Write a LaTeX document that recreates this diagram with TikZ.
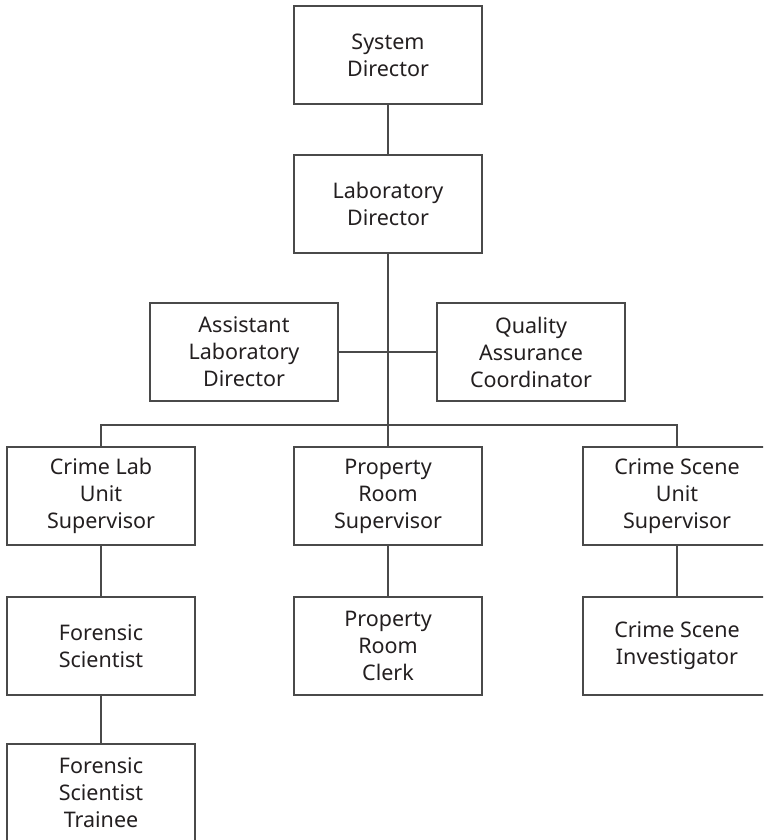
\documentclass[tikz,border=0pt]{standalone}
\usepackage{fontspec}
\setmainfont{Noto Sans}
\definecolor{txt}{HTML}{231F20}
\definecolor{ln}{HTML}{4A4A4A}
\begin{document}
\begin{tikzpicture}[x=1pt,y=-1pt,
  box/.style={draw=ln,line width=1.4pt,rectangle,minimum width=188pt,minimum height=98pt,inner sep=0pt,
    align=center,text=txt,font=\fontsize{21.5}{27}\selectfont},
  conn/.style={draw=ln,line width=1.4pt}]
\useasboundingbox (0,0) rectangle (763,840);
\clip (0,0) rectangle (763,840);
\node[box] (sys) at (388,55) {System\\Director};
\node[box] (lab) at (388,204) {Laboratory\\Director};
\node[box] (asst) at (244,352) {Assistant\\Laboratory\\Director};
\node[box] (qa) at (531,352) {Quality\\Assurance\\Coordinator};
\node[box] (cl) at (101,496) {Crime Lab\\Unit\\Supervisor};
\node[box] (prs) at (388,496) {Property\\Room\\Supervisor};
\node[box] (csu) at (677,496) {Crime Scene\\Unit\\Supervisor};
\node[box] (fs) at (101,646) {Forensic\\Scientist};
\node[box] (prc) at (388,646) {Property\\Room\\Clerk};
\node[box] (csi) at (677,646) {Crime Scene\\Investigator};
\node[box] (fst) at (101,793) {Forensic\\Scientist\\Trainee};
\coordinate (bus) at (388,425);
\draw[conn] (sys.south) -- (lab.north);
\draw[conn] (lab.south) -- (prs.north);
\draw[conn] (asst.east) -- (qa.west);
\draw[conn] (cl.north) -- (cl.north |- bus) -- (csu.north |- bus) -- (csu.north);
\draw[conn] (cl.south) -- (fs.north);
\draw[conn] (fs.south) -- (fst.north);
\draw[conn] (prs.south) -- (prc.north);
\draw[conn] (csu.south) -- (csi.north);
\end{tikzpicture}
\end{document}
